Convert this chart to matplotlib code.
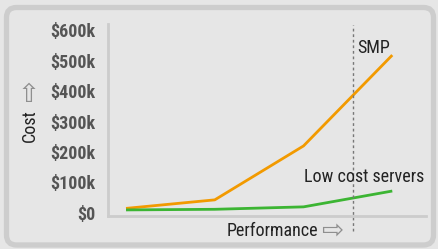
import matplotlib
matplotlib.use("Agg")
import matplotlib.pyplot as plt
from matplotlib.patches import FancyBboxPatch
from matplotlib.transforms import IdentityTransform

# data (cost in $k)
perf = [1, 2, 3, 4]
smp_cost = [15, 43, 220, 518]
low_cost = [10, 12, 20, 72]
yticks = [0, 100, 200, 300, 400, 500, 600]
ylabels = ["$0", "$100k", "$200k", "$300k", "$400k", "$500k", "$600k"]
cutoff = 3.56

bg = "#e6e6e6"
narrow = ["Roboto Condensed", "DejaVu Sans"]

fig = plt.figure(figsize=(4.38, 2.49), dpi=100, facecolor=bg)

# rounded frame (pixel coords)
frame = FancyBboxPatch((6.5, 4), 427, 237.5, boxstyle="round,pad=0,rounding_size=10",
                       transform=IdentityTransform(), facecolor=bg, edgecolor="#cdcdcd",
                       linewidth=3.8, zorder=-10)
fig.patches.append(frame)

ax = fig.add_axes([0.2466, 0.1325, 0.726, 0.771])
ax.set_facecolor("none")
ax.set_zorder(1)

ax.plot(perf, smp_cost, color="#f29a00", lw=2, solid_capstyle="butt")
ax.plot(perf, low_cost, color="#3cb533", lw=2, solid_capstyle="butt")
ax.axvline(cutoff, ymin=-0.078, ymax=0.995, color="#777777", lw=1,
           ls=(0, (2, 2)), clip_on=False)

ax.set_xlim(0.797, 4.38)
ax.set_ylim(-10, 620)
ax.set_xticks([])
ax.set_yticks(yticks)
ax.set_yticklabels(ylabels, family=narrow, fontweight="bold", fontsize=13, color="#555555")
ax.tick_params(axis="y", length=0, pad=9)

for s in ["top", "right"]:
    ax.spines[s].set_visible(False)
for s in ["left", "bottom"]:
    ax.spines[s].set_color("#cccccc")
    ax.spines[s].set_linewidth(2)

ax.text(3.6, 541, "SMP", family=narrow, fontsize=13, color="#222222", va="center", ha="left")
ax.text(3.0, 118, "Low cost servers", family=narrow, fontsize=13, color="#222222",
        va="center", ha="left")

# axis labels with arrows
fig.text(0.518, 0.073, "Performance", family=narrow, fontsize=13, color="#222222",
         ha="left", va="center")
fig.text(0.733, 0.072, "\u21e8", fontsize=19, color="#8f8f8f", ha="left", va="center")
fig.text(0.068, 0.496, "Cost", family=narrow, fontsize=13, color="#222222",
         ha="center", va="center", rotation=90)
fig.text(0.065, 0.618, "\u21e7", fontsize=19, color="#8f8f8f", ha="center", va="center")

fig.savefig("out.png", dpi=100, facecolor=bg)
